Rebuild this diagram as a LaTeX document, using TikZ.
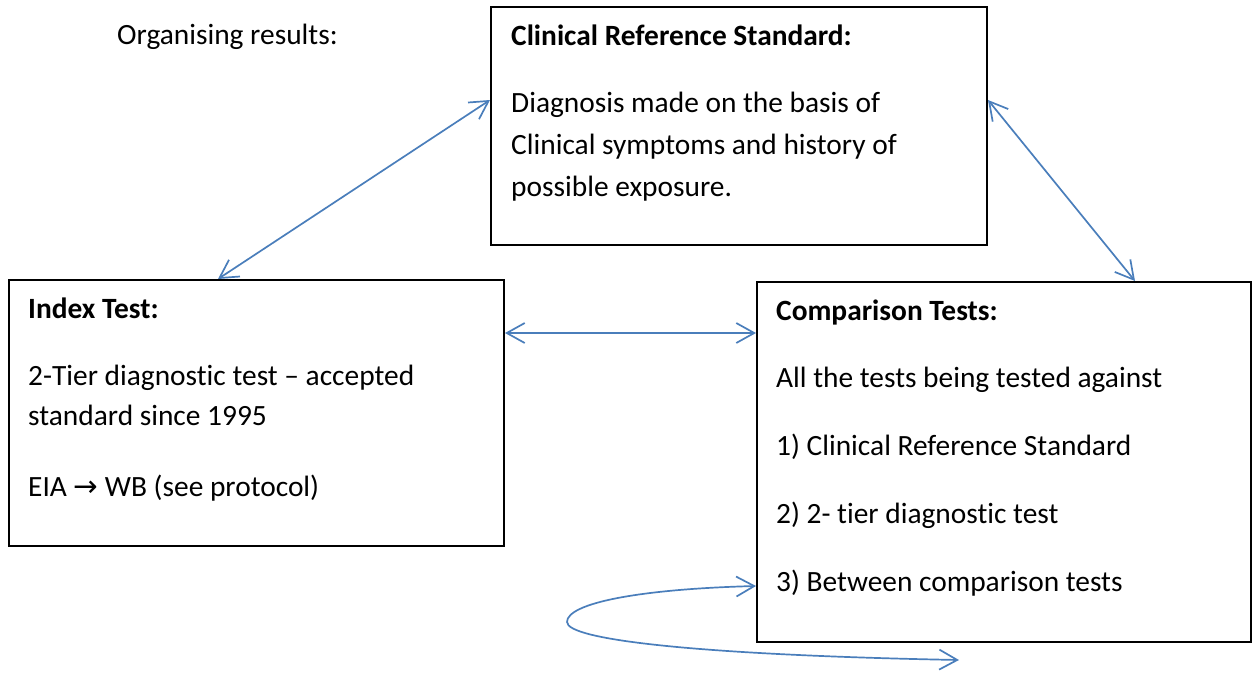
\documentclass[tikz,border=0pt]{standalone}
\usepackage{fontspec}
\setmainfont{Carlito}[Ligatures={NoCommon}]
\newfontfamily\arrowfont{DejaVu Sans}
\usetikzlibrary{arrows.meta,calc}
\definecolor{linkblue}{HTML}{4A7EBB}
\begin{document}
\begin{tikzpicture}[x=1pt,y=-1pt,
  box/.style={draw=black,line width=2pt,anchor=north west,inner sep=0pt},
  txt/.style={anchor=base west,inner sep=0pt,font=\fontsize{29.4}{35}\selectfont},
  head/.style={txt,font=\fontsize{29.4}{35}\selectfont\bfseries},
  link/.style={draw=linkblue,line width=1.7pt,
    {Straight Barb[length=18pt,width=20pt,line width=1.7pt]}-{Straight Barb[length=18pt,width=20pt,line width=1.7pt]}}]
\useasboundingbox (0,0) rectangle (1253,675);
% boxes
\node[box,minimum width=496pt,minimum height=238pt] (crs) at (490,6) {};
\node[box,minimum width=495pt,minimum height=266pt] (idx) at (8,279) {};
\node[box,minimum width=494pt,minimum height=360pt] (cmp) at (756,281) {};
% texts
\node[txt] (org) at (117,44) {Organising results:};
\node[head] (crsh) at (511,45) {Clinical Reference Standard:};
\node[txt] (crs1) at (511,112) {Diagnosis made on the basis of};
\node[txt] (crs2) at (511,154) {Clinical symptoms and history of};
\node[txt] (crs3) at (511,196) {possible exposure.};
\node[head] (idxh) at (28,318) {Index Test:};
\node[txt] (idx1) at (28,385) {2-Tier diagnostic test -- accepted};
\node[txt] (idx2) at (28,425) {standard since 1995};
\node[txt] (idx3) at (28,496) {EIA {\arrowfont →} WB (see protocol)};
\node[head] (cmph) at (776,320) {Comparison Tests:};
\node[txt] (cmp1) at (776,387) {All the tests being tested against};
\node[txt] (cmp2) at (776,455) {1) Clinical Reference Standard};
\node[txt] (cmp3) at (776,523) {2) 2- tier diagnostic test};
\node[txt] (cmp4) at (776,591) {3) Between comparison tests};
% connector end points
\coordinate (a1) at ($(idx.north west)+(210,0)$);
\coordinate (a2) at ($(crs.north west)+(0,94)$);
\coordinate (b1) at ($(crs.north east)+(0,94)$);
\coordinate (b2) at ($(cmp.north west)+(379,0)$);
\coordinate (c1) at ($(idx.north east)+(0,54)$);
\coordinate (c2) at ($(cmp.north west)+(0,52)$);
\coordinate (d1) at ($(cmp.north west)+(0,305)$);
\coordinate (dm) at (567,622);
\coordinate (d2) at (959,660);
% connectors
\draw[link] (a1) -- (a2);
\draw[link] (b1) -- (b2);
\draw[link] (c1) -- (c2);
\draw[link] (d1) .. controls (640,589) and (567,603) .. (dm)
  .. controls (567,640) and (700,655) .. (d2);
\end{tikzpicture}
\end{document}
